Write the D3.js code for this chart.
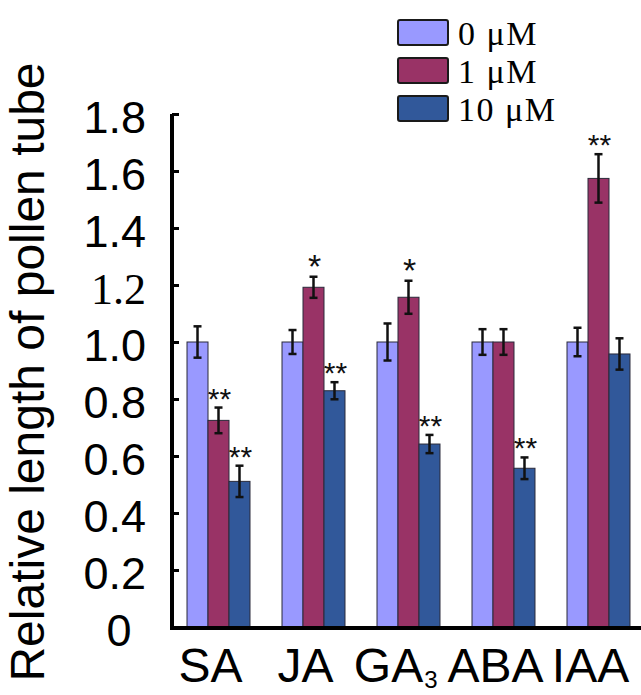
<!DOCTYPE html>
<html>
<head>
<meta charset="utf-8">
<script src="https://cdn.jsdelivr.net/npm/d3@7"></script>
<style>
  body { margin: 0; background: #fff; }
  svg { display: block; }
</style>
</head>
<body>
<div id="chart"></div>
<script>
// data
const categories = ["SA", "JA", "GA", "ABA", "IAA"];
const seriesNames = ["0 \u03bcM", "1 \u03bcM", "10 \u03bcM"];
const values0 = [1.0, 1.0, 1.0, 1.0, 1.0];
const values1 = [0.725, 1.192, 1.157, 1.0, 1.574];
const values10 = [0.511, 0.829, 0.642, 0.557, 0.958];
const errors0 = [0.055, 0.042, 0.065, 0.045, 0.05];
const errors1 = [0.045, 0.037, 0.058, 0.045, 0.085];
const errors10 = [0.055, 0.03, 0.032, 0.038, 0.055];
const stars0 = ["", "", "", "", ""];
const stars1 = ["**", "*", "*", "", "**"];
const stars10 = ["**", "**", "**", "**", ""];
const yTicks = [0, 0.2, 0.4, 0.6, 0.8, 1.0, 1.2, 1.4, 1.6, 1.8];
const colors = ["#9999ff", "#993366", "#31589a"];

const width = 641, height = 695;

const svg = d3.select("#chart").append("svg")
    .attr("width", width)
    .attr("height", height);

// scales
const x = d3.scaleBand()
    .domain(categories)
    .range([172, 645])
    .paddingInner(0.337)
    .paddingOuter(0.158);

const xs = d3.scaleBand()
    .domain(d3.range(seriesNames.length))
    .range([0, x.bandwidth()]);

const y = d3.scaleLinear()
    .domain([0, 1.8])
    .range([627, 114]);

// build rows per series
const allValues = [values0, values1, values10];
const allErrors = [errors0, errors1, errors10];
const allStars = [stars0, stars1, stars10];

const rows = [];
allValues.forEach((vals, s) => {
    vals.forEach((v, i) => {
        rows.push({cat: categories[i], s: s, v: v, e: allErrors[s][i], star: allStars[s][i]});
    });
});

// bars
svg.append("g").selectAll("rect")
    .data(rows)
    .join("rect")
    .attr("x", d => x(d.cat) + xs(d.s))
    .attr("y", d => y(d.v))
    .attr("width", xs.bandwidth())
    .attr("height", d => y(0) - y(d.v))
    .attr("fill", d => colors[d.s])
    .attr("stroke", "#2a2a3a")
    .attr("stroke-width", 1);

// error bars
const capW = 4;
const eb = svg.append("g")
    .attr("stroke", "#111")
    .attr("stroke-width", 2.5);
rows.forEach(d => {
    const cx = x(d.cat) + xs(d.s) + xs.bandwidth() / 2;
    eb.append("line")
        .attr("x1", cx).attr("x2", cx)
        .attr("y1", y(d.v + d.e)).attr("y2", y(d.v - d.e));
    eb.append("line")
        .attr("x1", cx - capW).attr("x2", cx + capW)
        .attr("y1", y(d.v + d.e)).attr("y2", y(d.v + d.e));
    eb.append("line")
        .attr("x1", cx - capW).attr("x2", cx + capW)
        .attr("y1", y(d.v - d.e)).attr("y2", y(d.v - d.e));
});

// significance stars
svg.append("g").selectAll("text")
    .data(rows.filter(d => d.star !== ""))
    .join("text")
    .attr("x", d => x(d.cat) + xs(d.s) + xs.bandwidth() / 2 + 1)
    .attr("y", d => y(d.v + d.e) + 1)
    .attr("text-anchor", "middle")
    .attr("font-family", "Liberation Sans, Arial, sans-serif")
    .attr("font-size", d => d.star === "*" ? 34 : 30)
    .attr("fill", "#111")
    .text(d => d.star);

// y axis: ticks point inward
const yAxis = d3.axisRight(y)
    .tickValues(yTicks)
    .tickSize(7)
    .tickFormat("");
const gy = svg.append("g")
    .attr("transform", "translate(172,0)")
    .call(yAxis);
gy.select(".domain").remove();
gy.selectAll(".tick line")
    .attr("stroke", "#000")
    .attr("stroke-width", 3);

// axis lines
svg.append("line")
    .attr("x1", 172).attr("x2", 172)
    .attr("y1", y(1.8)).attr("y2", y(0) + 2)
    .attr("stroke", "#000").attr("stroke-width", 4);
svg.append("line")
    .attr("x1", 170).attr("x2", width)
    .attr("y1", y(0) + 1).attr("y2", y(0) + 1)
    .attr("stroke", "#000").attr("stroke-width", 4);

// tick labels
svg.append("g").selectAll("text")
    .data(yTicks)
    .join("text")
    .attr("x", d => d === 0 ? 119 : 146)
    .attr("y", d => y(d) + 19)
    .attr("text-anchor", d => d === 0 ? "middle" : "end")
    .attr("font-family", d => d === 1.2 ? "Liberation Serif, Times New Roman, serif" : "Liberation Sans, Arial, sans-serif")
    .attr("font-size", d => d === 1.2 ? 44 : 45)
    .attr("fill", "#000")
    .text(d => d === 0 ? "0" : d3.format(".1f")(d));

// y axis title
svg.append("text")
    .attr("transform", "translate(44,372) rotate(-90)")
    .attr("text-anchor", "middle")
    .attr("font-family", "Liberation Sans, Arial, sans-serif")
    .attr("font-size", 48)
    .attr("fill", "#000")
    .text("Relative length of pollen tube");

// category labels
const xl = svg.append("g")
    .attr("font-family", "Liberation Sans, Arial, sans-serif")
    .attr("font-size", 48)
    .attr("fill", "#000");
categories.forEach(c => {
    const isGA = c === "GA";
    const cx = x(c) + x.bandwidth() / 2 - (isGA ? 20 : 8);
    const t = xl.append("text")
        .attr("x", cx)
        .attr("y", 682)
        .attr("text-anchor", "middle")
        .text(c);
    if (isGA) {
        // subscript kept as its own text so it stays inside the page
        const w = t.node().getComputedTextLength();
        xl.append("text")
            .attr("x", cx + w / 2 + 1)
            .attr("y", 688)
            .attr("font-size", 24)
            .text("3");
    }
});

// legend
const legend = svg.append("g");
seriesNames.forEach((name, i) => {
    const ly = 20 + i * 38;
    legend.append("rect")
        .attr("x", 398).attr("y", ly)
        .attr("width", 50).attr("height", 25)
        .attr("rx", 2)
        .attr("fill", colors[i])
        .attr("stroke", "#1a1a1a")
        .attr("stroke-width", 2);
    legend.append("text")
        .attr("x", 458).attr("y", ly + 25)
        .attr("font-family", "Liberation Serif, Times New Roman, serif")
        .attr("font-size", 34)
        .attr("letter-spacing", 1.5)
        .attr("fill", "#000")
        .text(name);
});
</script>
</body>
</html>
